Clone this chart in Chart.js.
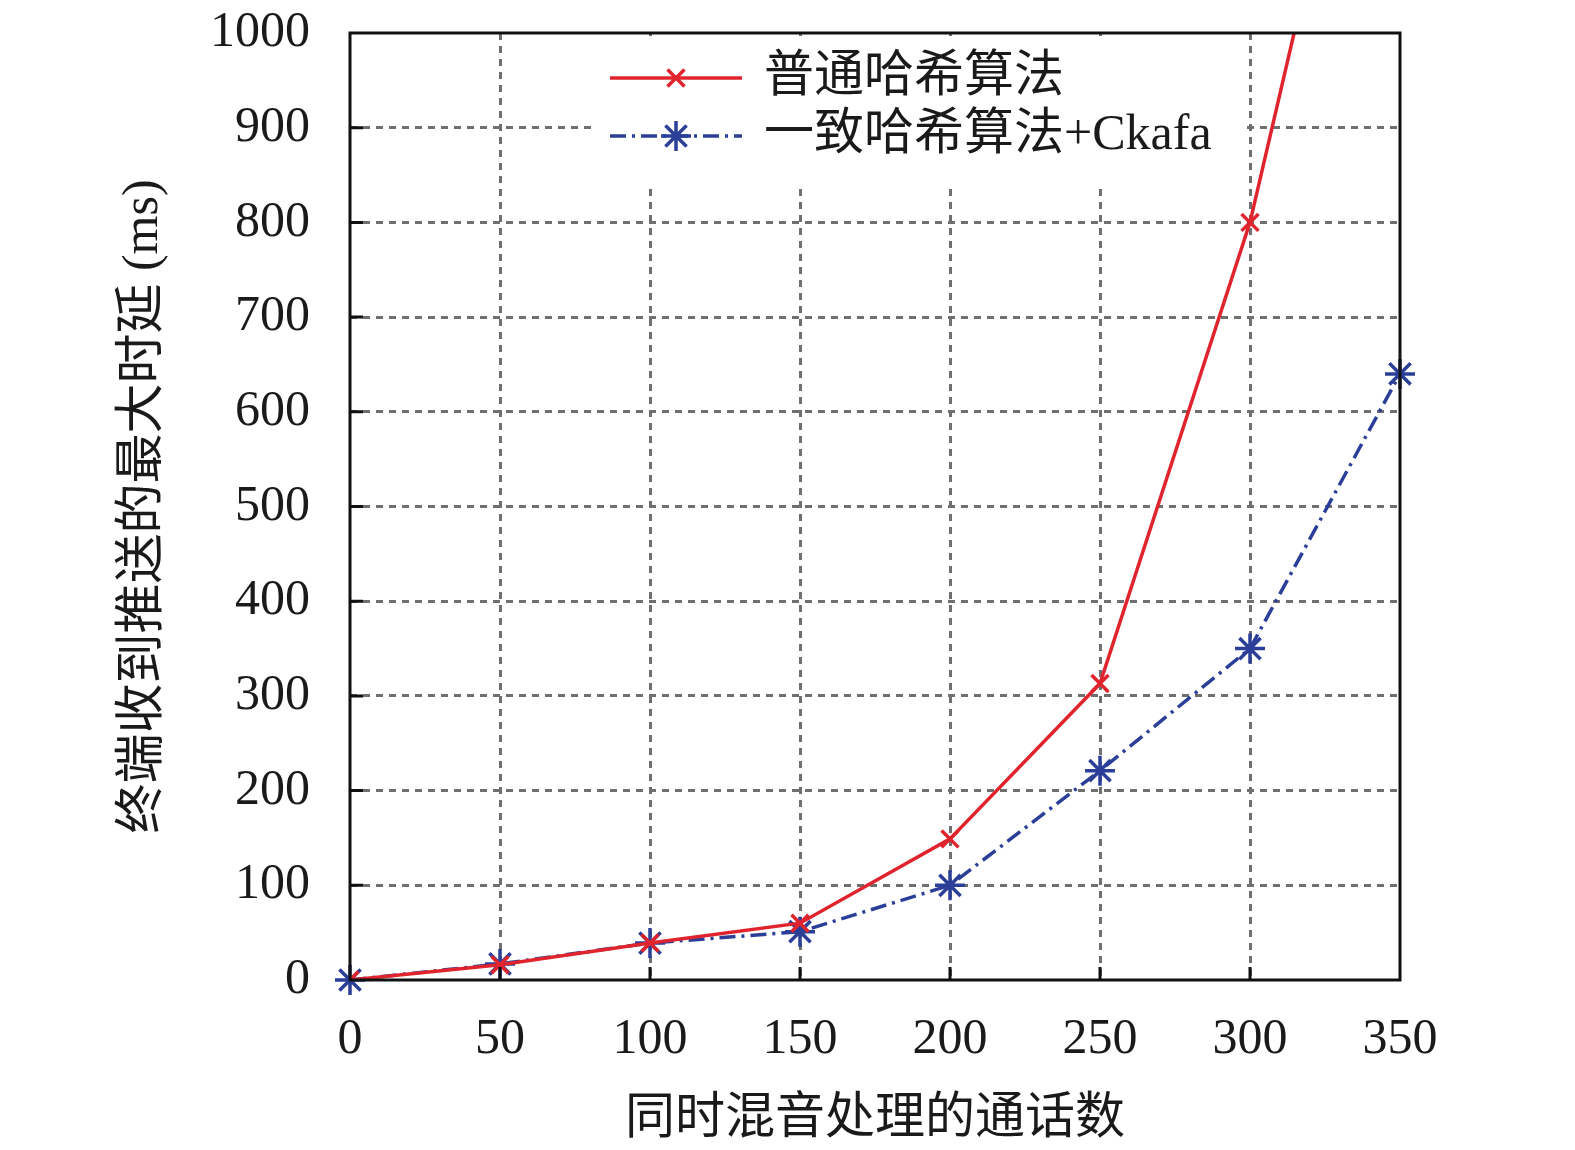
<!DOCTYPE html>
<html>
<head>
<meta charset="utf-8">
<script src="https://cdn.jsdelivr.net/npm/chart.js@4.4.0/dist/chart.umd.min.js"></script>
<style>
  body { margin: 0; background: #fff; }
</style>
</head>
<body>
<canvas id="chart" width="1575" height="1150"></canvas>
<script>
// 同时混音处理的通话数 vs 最大时延
const callCounts = [0, 50, 100, 150, 200, 250, 300, 350];
const plainHash = [0, 16, 39, 60, 149, 313, 800, 1480];
const consistentHash = [0, 17, 39, 51, 100, 221, 350, 640];
const seriesNames = ['普通哈希算法', '一致哈希算法+Ckafa'];
const xTitle = '同时混音处理的通话数';
const yTitle = '终端收到推送的最大时延 (ms)';

const FONT = "'Liberation Serif', 'Noto Sans CJK SC', serif";
const RED = '#e0242e';
const BLUE = '#2b3f98';
const BLUE_DASH = [16, 6, 3, 6];
const GRID = '#6f6f6f';

const toPoints = ys => callCounts.map((x, i) => ({ x, y: ys[i] }));

// frame, inward ticks and legend, MATLAB style
const framePlugin = {
  id: 'frame',
  afterDraw(chart) {
    const { ctx, chartArea: a, scales } = chart;
    ctx.save();
    ctx.strokeStyle = '#111';
    ctx.lineWidth = 3;
    ctx.beginPath();
    scales.x.ticks.forEach(t => {
      if (t.value <= 0 || t.value >= 350) return;
      const px = scales.x.getPixelForValue(t.value);
      ctx.moveTo(px, a.bottom);
      ctx.lineTo(px, a.bottom - 13);
    });
    scales.y.ticks.forEach(t => {
      if (t.value <= 0 || t.value >= 1000) return;
      const py = scales.y.getPixelForValue(t.value);
      ctx.moveTo(a.left, py);
      ctx.lineTo(a.left + 13, py);
    });
    ctx.stroke();
    ctx.strokeRect(a.left, a.top, a.right - a.left, a.bottom - a.top);

    // legend
    ctx.fillStyle = '#fff';
    ctx.fillRect(596, a.top + 3, 645, 150);
    const rows = [
      { name: seriesNames[0], color: RED, dash: [], style: 'crossRot', r: 12, y: a.top + 45 },
      { name: seriesNames[1], color: BLUE, dash: BLUE_DASH, style: 'star', r: 15, y: a.top + 103 }
    ];
    rows.forEach(row => {
      ctx.strokeStyle = row.color;
      ctx.lineWidth = 3.5;
      ctx.setLineDash(row.dash);
      ctx.beginPath();
      ctx.moveTo(610, row.y);
      ctx.lineTo(742, row.y);
      ctx.stroke();
      ctx.setLineDash([]);
      ctx.fillStyle = row.color;
      Chart.helpers.drawPoint(ctx, {
        pointStyle: row.style, radius: row.r, rotation: 0, borderWidth: 3.5
      }, 676, row.y);
      ctx.fillStyle = '#1a1a1a';
      ctx.font = '50px ' + FONT;
      ctx.textBaseline = 'middle';
      ctx.textAlign = 'left';
      ctx.fillText(row.name, 764, row.y);
    });
    ctx.restore();
  }
};

new Chart(document.getElementById('chart'), {
  type: 'line',
  data: {
    datasets: [
      {
        label: seriesNames[0],
        data: toPoints(plainHash),
        borderColor: RED,
        backgroundColor: RED,
        borderWidth: 3.5,
        pointStyle: 'crossRot',
        pointRadius: 12,
        pointBorderWidth: 3.5,
        tension: 0,
        fill: false
      },
      {
        label: seriesNames[1],
        data: toPoints(consistentHash),
        borderColor: BLUE,
        backgroundColor: BLUE,
        borderWidth: 3.5,
        borderDash: BLUE_DASH,
        pointStyle: 'star',
        pointRadius: 15,
        pointBorderWidth: 3.5,
        tension: 0,
        fill: false,
        clip: false
      }
    ]
  },
  options: {
    responsive: false,
    devicePixelRatio: 1,
    animation: false,
    layout: { padding: { top: 33, right: 175, bottom: 0, left: 114 } },
    plugins: {
      legend: { display: false },
      tooltip: { enabled: false }
    },
    scales: {
      x: {
        type: 'linear',
        min: 0,
        max: 350,
        afterFit: s => { s.height = 170; s.paddingLeft = 0; s.paddingRight = 0; },
        ticks: {
          stepSize: 50,
          padding: 30,
          color: '#1a1a1a',
          callback: v => String(v),
          font: { family: FONT, size: 50 }
        },
        grid: {
          drawTicks: false,
          color: c => (c.tick.value > 0 && c.tick.value < 350) ? GRID : 'transparent',
          lineWidth: 3
        },
        border: { display: false, dash: [7, 6] },
        title: {
          display: true,
          text: xTitle,
          color: '#1a1a1a',
          padding: 0,
          font: { family: FONT, size: 50 }
        }
      },
      y: {
        min: 0,
        max: 1000,
        afterFit: s => { s.width = 236; s.paddingTop = 0; s.paddingBottom = 0; },
        ticks: {
          stepSize: 100,
          padding: 40,
          color: '#1a1a1a',
          callback: v => String(v),
          font: { family: FONT, size: 50 }
        },
        grid: {
          drawTicks: false,
          color: c => (c.tick.value > 0 && c.tick.value < 1000) ? GRID : 'transparent',
          lineWidth: 3
        },
        border: { display: false, dash: [7, 6] },
        title: {
          display: true,
          text: yTitle,
          color: '#1a1a1a',
          padding: 0,
          font: { family: FONT, size: 50 }
        }
      }
    }
  },
  plugins: [framePlugin]
});
</script>
</body>
</html>
